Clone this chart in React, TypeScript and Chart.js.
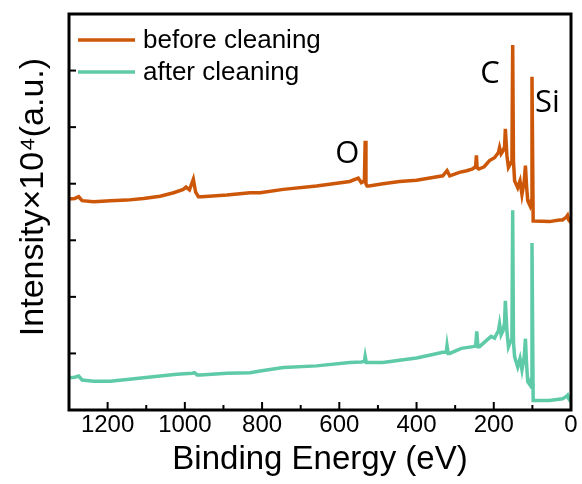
import { useEffect, useRef } from 'react';
import { Chart, registerables } from 'chart.js';

Chart.register(...registerables);

const seriesLabels = ['before cleaning', 'after cleaning'];
const seriesColors = ['#cd5708', '#5ecaa8'];

const energyBefore = [
  1300, 1285, 1275, 1266, 1236, 1193, 1150, 1107, 1064, 1029, 1004, 997, 988, 978, 972, 965, 956, 891, 831, 805,
  745, 659, 573, 551, 543, 535, 533, 531, 528, 523, 487, 444, 400, 358, 332, 321, 314, 289, 270, 255, 247, 245,
  243, 239, 225, 211, 198, 188, 185, 181, 176, 172, 170, 166, 162, 157, 153, 151, 149, 146, 138, 132, 127, 121,
  118, 115, 112, 106, 103, 101, 98, 95, 56, 30, 22, 12, 9, 6, 0,
];
const intensityBefore = [
  3.73, 3.74, 3.77, 3.70, 3.68, 3.70, 3.71, 3.74, 3.78, 3.84, 3.90, 3.94, 3.89, 4.08, 3.85, 3.77, 3.77, 3.80, 3.84, 3.84,
  3.90, 3.96, 4.04, 4.10, 4.02, 4.05, 4.76, 4.00, 3.96, 3.96, 4.00, 4.04, 4.06, 4.11, 4.14, 4.23, 4.14, 4.20, 4.23, 4.26, 4.30, 4.50,
  4.28, 4.26, 4.30, 4.41, 4.46, 4.55, 4.64, 4.53, 4.58, 4.65, 4.97, 4.50, 4.29, 4.35, 4.40, 6.45, 4.40, 4.05, 3.93, 4.05, 3.81, 4.05,
  4.32, 3.95, 3.70, 3.61, 3.70, 5.89, 3.34, 3.34, 3.33, 3.36, 3.36, 3.41, 3.44, 3.36, 3.31,
];

const energyAfter = [
  1300, 1285, 1275, 1266, 1236, 1193, 1150, 1107, 1064, 1021, 980, 975, 968, 960, 891, 831, 805, 745, 659, 573,
  543, 535, 533, 530, 487, 444, 400, 358, 332, 323, 321, 318, 314, 284, 254, 247, 244, 241, 237, 207, 198, 188,
  185, 181, 176, 172, 170, 166, 162, 157, 153, 151, 149, 146, 138, 132, 127, 121, 118, 115, 112, 106, 103, 101,
  98, 95, 56, 22, 12, 9, 6, 0,
];
const intensityAfter = [
  0.57, 0.58, 0.60, 0.53, 0.51, 0.51, 0.54, 0.57, 0.60, 0.63, 0.65, 0.66, 0.62, 0.62, 0.65, 0.66, 0.69, 0.75, 0.78, 0.84,
  0.85, 0.86, 0.95, 0.84, 0.84, 0.88, 0.92, 0.98, 1.02, 1.02, 1.14, 1.00, 1.00, 1.09, 1.12, 1.13, 1.39, 1.12, 1.12, 1.30, 1.27, 1.40,
  1.52, 1.33, 1.40, 1.55, 1.93, 1.40, 1.12, 1.21, 1.25, 3.53, 1.20, 0.94, 0.76, 0.91, 0.71, 0.95, 1.26, 0.80, 0.50, 0.44, 0.55, 2.95,
  0.17, 0.17, 0.17, 0.20, 0.24, 0.26, 0.20, 0.14,
];

const peakLabels = ['O', 'C', 'Si'];
const peakLabelEnergy = [579, 210, 61];
const peakLabelIntensity = [4.53, 5.93, 5.42];

const xTitle = 'Binding Energy (eV)';
const yTitle = 'Intensity×10⁴(a.u.)';
const xMin = 0;
const xMax = 1300;
const xStep = 100;
const xLabelStep = 200;
const yMin = 0;
const yMax = 7;
const yStep = 1;

const decorPlugin = {
  id: 'decor',
  afterDatasetsDraw(chart: any) {
    const { ctx, chartArea, scales } = chart;
    const { left, right, top, bottom } = chartArea;
    const x = scales.x;
    const y = scales.y;
    ctx.save();
    ctx.strokeStyle = '#000';
    ctx.lineWidth = 2;
    x.ticks.forEach((t: any) => {
      const px = x.getPixelForValue(t.value);
      const len = t.value % xLabelStep === 0 ? 8 : 5;
      ctx.beginPath();
      ctx.moveTo(px, bottom);
      ctx.lineTo(px, bottom - len);
      ctx.stroke();
    });
    y.ticks.forEach((t: any) => {
      const py = y.getPixelForValue(t.value);
      ctx.beginPath();
      ctx.moveTo(left, py);
      ctx.lineTo(left + 7, py);
      ctx.stroke();
    });
    ctx.lineWidth = 3;
    ctx.strokeRect(left, top, right - left, bottom - top);

    // peak annotations
    ctx.fillStyle = '#000';
    ctx.font = '31px "Open Sans"';
    ctx.textAlign = 'center';
    ctx.textBaseline = 'middle';
    peakLabels.forEach((lab, i) => {
      ctx.fillText(lab, x.getPixelForValue(peakLabelEnergy[i]), y.getPixelForValue(peakLabelIntensity[i]));
    });

    // legend
    ctx.font = '26px "Liberation Sans"';
    ctx.textAlign = 'left';
    chart.data.datasets.forEach((ds: any, i: number) => {
      const ly = top + 26 + i * 32;
      ctx.strokeStyle = ds.borderColor;
      ctx.lineWidth = 3.5;
      ctx.beginPath();
      ctx.moveTo(left + 9, ly);
      ctx.lineTo(left + 66, ly);
      ctx.stroke();
      ctx.fillStyle = '#000';
      ctx.fillText(ds.label, left + 74, ly + 1);
    });

    // y title
    ctx.save();
    ctx.translate(43, (top + bottom) / 2 - 15);
    ctx.rotate(-Math.PI / 2);
    ctx.font = '34px "Liberation Sans"';
    ctx.textAlign = 'center';
    ctx.textBaseline = 'alphabetic';
    ctx.fillStyle = '#000';
    ctx.fillText(yTitle, 0, 0);
    ctx.restore();
    ctx.restore();
  },
};

export default function App() {
  const ref = useRef<HTMLCanvasElement | null>(null);
  useEffect(() => {
    if (!ref.current) return;
    const chart = new Chart(ref.current, {
      type: 'line',
      data: {
        datasets: [
          {
            label: seriesLabels[0],
            data: energyBefore.map((e, i) => ({ x: e, y: intensityBefore[i] })),
            borderColor: seriesColors[0],
            borderWidth: 3.5,
            pointRadius: 0,
            tension: 0,
            fill: false,
          },
          {
            label: seriesLabels[1],
            data: energyAfter.map((e, i) => ({ x: e, y: intensityAfter[i] })),
            borderColor: seriesColors[1],
            borderWidth: 3.5,
            pointRadius: 0,
            tension: 0,
            fill: false,
          },
        ],
      },
      options: {
        animation: false,
        responsive: true,
        maintainAspectRatio: false,
        layout: { padding: { left: 69, right: 11, top: 14, bottom: 8 } },
        plugins: { legend: { display: false }, tooltip: { enabled: false } },
        scales: {
          x: {
            type: 'linear',
            min: xMin,
            max: xMax,
            reverse: true,
            grid: { display: false, drawTicks: false },
            border: { display: false },
            ticks: {
              stepSize: xStep,
              autoSkip: false,
              maxRotation: 0,
              padding: 3,
              color: '#000',
              font: { family: 'Liberation Sans', size: 24, lineHeight: 1 },
              callback: (v: any) => (Number(v) % xLabelStep === 0 ? String(v) : ''),
            },
            title: {
              display: true,
              text: xTitle,
              color: '#000',
              font: { family: 'Liberation Sans', size: 33, lineHeight: 1 },
              padding: { top: 3, bottom: 0 },
            },
          },
          y: {
            type: 'linear',
            min: yMin,
            max: yMax,
            grid: { display: false, drawTicks: false },
            border: { display: false },
            ticks: { stepSize: yStep, display: false },
          },
        },
      },
      plugins: [decorPlugin],
    });
    return () => chart.destroy();
  }, []);
  return (
    <div style={{ position: 'fixed', left: 0, top: 0, width: 582, height: 484, background: '#fff' }}>
      <canvas ref={ref} />
    </div>
  );
}
